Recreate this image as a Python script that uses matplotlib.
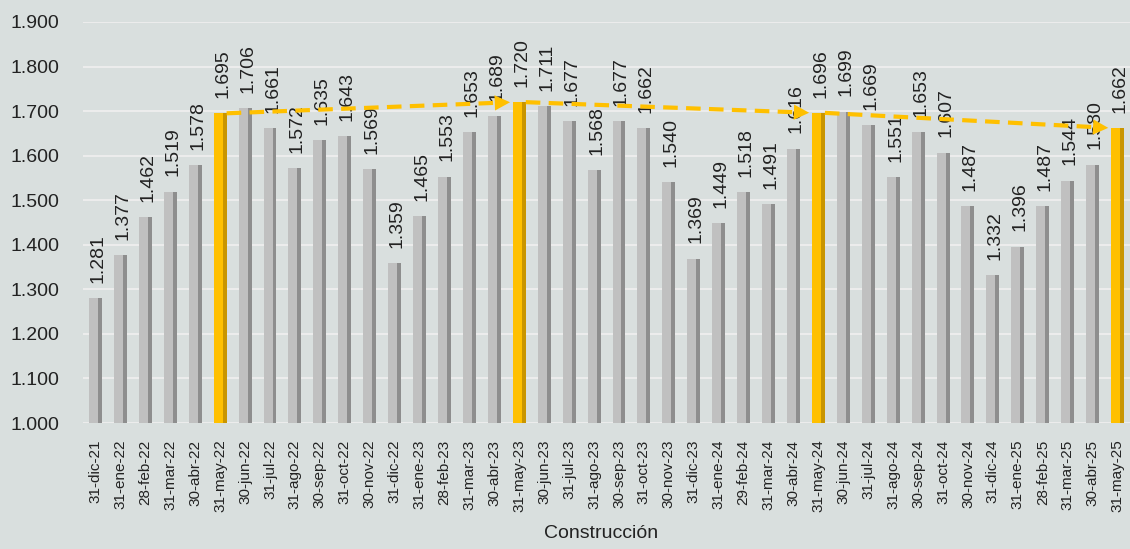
import matplotlib
matplotlib.use('Agg')
import matplotlib.pyplot as plt
import numpy as np

# %%
fechas = [
    '31-dic-21', '31-ene-22', '28-feb-22', '31-mar-22', '30-abr-22', '31-may-22',
    '30-jun-22', '31-jul-22', '31-ago-22', '30-sep-22', '31-oct-22', '30-nov-22',
    '31-dic-22', '31-ene-23', '28-feb-23', '31-mar-23', '30-abr-23', '31-may-23',
    '30-jun-23', '31-jul-23', '31-ago-23', '30-sep-23', '31-oct-23', '30-nov-23',
    '31-dic-23', '31-ene-24', '29-feb-24', '31-mar-24', '30-abr-24', '31-may-24',
    '30-jun-24', '31-jul-24', '31-ago-24', '30-sep-24', '31-oct-24', '30-nov-24',
    '31-dic-24', '31-ene-25', '28-feb-25', '31-mar-25', '30-abr-25', '31-may-25',
]
valores = [
    1281, 1377, 1462, 1519, 1578, 1695,
    1706, 1661, 1572, 1635, 1643, 1569,
    1359, 1465, 1553, 1653, 1689, 1720,
    1711, 1677, 1568, 1677, 1662, 1540,
    1369, 1449, 1518, 1491, 1616, 1696,
    1699, 1669, 1551, 1653, 1607, 1487,
    1332, 1396, 1487, 1544, 1580, 1662,
]
yticks = [1.0, 1.1, 1.2, 1.3, 1.4, 1.5, 1.6, 1.7, 1.8, 1.9]
xlabel = 'Construcción'

# %%
plt.rcParams['font.family'] = ['Liberation Sans', 'DejaVu Sans']

vals = np.array(valores) / 1000
x = np.arange(len(vals))
is_may = np.array(['-may-' in f for f in fechas])

face = np.where(is_may, '#ffc000', '#c0c0c0')
side = np.where(is_may, '#c99500', '#8e8e8e')

fig = plt.figure(figsize=(11.3, 5.49), dpi=100)
fig.patch.set_facecolor('#d9dfde')
ax = fig.add_axes([0.0735, 0.2295, 0.9265, 0.7305])
ax.set_facecolor('none')

bw = 0.52
ax.bar(x, vals - 1.0, bottom=1.0, width=bw, color=face, zorder=2)
ax.bar(x + bw / 2 - 0.08, vals - 1.0, bottom=1.0, width=0.16, color=side, zorder=3)

for xi, v in zip(x, vals):
    ax.annotate(f'{v:.3f}', (xi + 0.1, v), xytext=(0, 11),
                textcoords='offset points', rotation=90, ha='center', va='bottom',
                fontsize=14, color='#222222', zorder=4)

# flechas punteadas entre las barras de mayo
may_idx = x[is_may]
for a, b in zip(may_idx[:-1], may_idx[1:]):
    x0, y0 = a + bw / 2, vals[a]
    x1, y1 = b - bw / 2, vals[b]
    slope = (y1 - y0) / (x1 - x0)
    xm = x1 - 0.5
    ax.plot([x0, xm], [y0, y0 + slope * (xm - x0)], color='#ffc000', lw=3,
            ls=(0, (3.5, 2)), zorder=5)
    xs = x1 - 0.7
    ax.annotate('', xy=(x1, y1), xytext=(xs, y0 + slope * (xs - x0)),
                arrowprops=dict(arrowstyle='-|>,head_length=1.1,head_width=0.55',
                                color='#ffc000', lw=0), zorder=6)

ax.set_xlim(-0.5, len(vals) - 0.5)
ax.set_ylim(1.0, 1.9)
ax.set_yticks(yticks)
ax.set_yticklabels([f'{t:.3f}' for t in yticks], fontsize=14, color='#222222')
ax.set_xticks(x)
ax.set_xticklabels(fechas, rotation=90, fontsize=11, color='#222222')
ax.tick_params(axis='both', length=0)
ax.tick_params(axis='x', pad=12)
ax.tick_params(axis='y', pad=17)
ax.grid(axis='y', color='#ececec', lw=1.5, zorder=0)
for s in ax.spines.values():
    s.set_visible(False)

fig.text(0.532, 1 - 533 / 549, xlabel, fontsize=14, color='#222222',
         ha='center', va='center')

fig.savefig('out.png', dpi=100, facecolor=fig.get_facecolor())
